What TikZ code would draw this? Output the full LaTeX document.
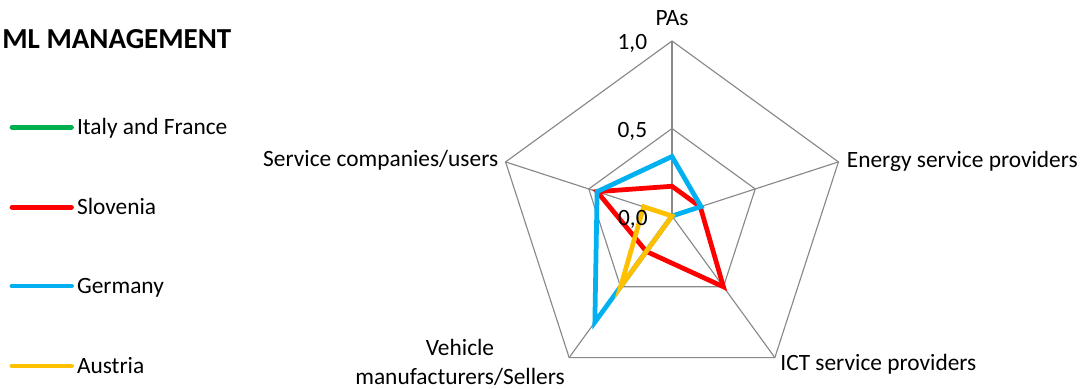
\documentclass[tikz,border=0pt]{standalone}
\usepackage{fontspec}
\setmainfont{Carlito}

\definecolor{italycol}{HTML}{00B050}
\definecolor{slocol}{HTML}{FF0000}
\definecolor{gercol}{HTML}{00B0F0}
\definecolor{auscol}{HTML}{FFC000}
\definecolor{gridcol}{HTML}{898989}

\begin{document}
\begin{tikzpicture}[
        gridline/.style={gridcol, line width=0.65pt},
        series/.style={line width=2.7pt},
        keyline/.style={line width=2.7pt, line cap=round},
        lbl/.style={inner sep=0pt, font=\fontsize{13.3}{16}\selectfont}
    ]
            \useasboundingbox (0,0) rectangle (21.62,7.76);

            % title and legend
            \node[lbl, anchor=base west, font=\fontsize{16.5}{20}\selectfont\bfseries] (title) at (0.04, 6.79) {ML MANAGEMENT};
            \foreach \y/\c/\t/\n in {5.214/italycol/Italy and France/italy,
                                     3.614/slocol/Slovenia/slovenia,
                                     2.04/gercol/Germany/germany,
                                     0.44/auscol/Austria/austria}{
                \draw[keyline, \c] (0.24, \y) -- (1.43, \y);
                \node[lbl, anchor=base west] (\n) at (1.534, {\y-0.146}) {\t};
            }

            % radar grid
            \begin{scope}[shift={(13.44, 3.44)}]
                \coordinate (O) at (0, 0);
                \foreach \a/\n in {90/pa, 18/en, -54/ict, -126/veh, 162/ser}{
                    \coordinate (\n) at (\a:3.5);
                    \coordinate (\n h) at (\a:1.75);
                    \draw[gridline] (O) -- (\n);
                }
                \draw[gridline] (pa) -- (en) -- (ict) -- (veh) -- (ser) -- cycle;
                \draw[gridline] (pah) -- (enh) -- (icth) -- (vehh) -- (serh) -- cycle;

                % series
                \draw[series, slocol] (90:0.595) -- (18:0.595) -- (-54:1.75) -- (-126:0.875) -- (162:1.575) -- cycle;
                \draw[series, gercol] (90:1.19) -- (18:0.61) -- (O) -- (-126:2.625) -- (162:1.575) -- cycle;
                \draw[series, auscol] (O) -- (-126:1.75) -- (162:0.595) -- cycle;
            \end{scope}

            % tick labels
            \node[lbl, anchor=base east] (t10) at (12.95, 6.76) {1,0};
            \node[lbl, anchor=base east] (t05) at (12.95, 5.01) {0,5};
            \node[lbl, anchor=base east] (t00) at (12.96, 3.26) {0,0};

            % axis labels
            \node[lbl, anchor=base] (paslbl) at (13.44, 7.246) {PAs};
            \node[lbl, anchor=base west] (enlbl) at (16.93, 4.41) {Energy service providers};
            \node[lbl, anchor=base west] (ictlbl) at (15.6, 0.36) {ICT service providers};
            \node[lbl, anchor=base east] (serlbl) at (9.97, 4.43) {Service companies/users};
            \node[lbl, anchor=base] (vehlbl) at (9.2, 0.646) {Vehicle};
            \node[lbl, anchor=base] (vehlblb) at (9.2, 0.08) {manufacturers/Sellers};
    \end{tikzpicture}
\end{document}
